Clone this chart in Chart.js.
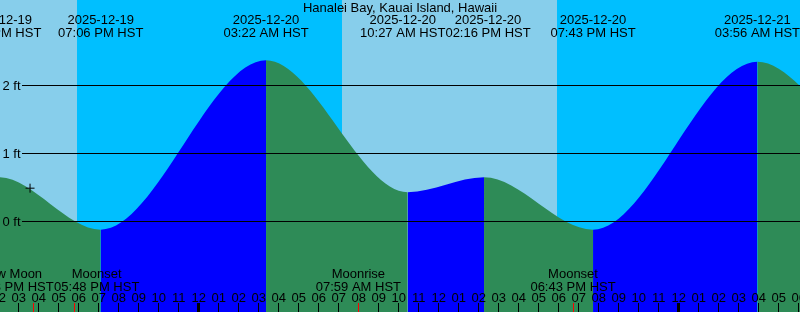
<!DOCTYPE html>
<html>
<head>
<meta charset="utf-8">
<script src="https://cdn.jsdelivr.net/npm/chart.js@4"></script>
<style>
  html, body { margin: 0; padding: 0; background: #fff; }
  canvas { display: block; }
</style>
</head>
<body>
<canvas id="tideChart" width="800" height="312"></canvas>
<script>
const stationName = 'Hanalei Bay, Kauai Island, Hawaii';

// tide highs/lows, local HST. first and last ones are just outside the picture
const tideTimes = ['2025-12-19 08:00', '2025-12-19 14:00', '2025-12-19 19:06', '2025-12-20 03:22',
  '2025-12-20 10:27', '2025-12-20 14:16', '2025-12-20 19:43', '2025-12-21 03:56',
  '2025-12-21 10:30', '2025-12-21 16:30'];
const tideHeights = [0.30, 0.65, -0.12, 2.37, 0.43, 0.65, -0.12, 2.35, 0.90, 1.00];

// night = sunset .. sunrise
const nightStarts = ['2025-12-19 17:55', '2025-12-20 17:55'];
const nightEnds = ['2025-12-20 07:10', '2025-12-21 07:10'];

const moonEvents = ['New Moon', 'Moonset', 'Moonrise', 'Moonset'];
const moonTimes = ['2025-12-19 15:43', '2025-12-19 17:48', '2025-12-20 07:59', '2025-12-20 18:43'];

const heightTicks = [0, 1, 2];
const heightLabels = ['0 ft', '1 ft', '2 ft'];

// the "+" mark
const markTime = '2025-12-19 15:34';
const markHeight = 0.49;

const DAY = '#87CEEB', NIGHT = '#00BFFF', FLOOD = '#0000FF', EBB = '#2E8B57';
const FONT = '13px "Liberation Sans", Arial, sans-serif';

const base = Date.parse('2025-12-20T00:00:00Z');
function toHours(s) {
  const [d, t] = s.split(' ');
  return (Date.parse(d + 'T' + t + ':00Z') - base) / 3.6e6;
}
function pad(n) { return (n < 10 ? '0' : '') + n; }
function clock(s) {
  const t = s.split(' ')[1];
  const hh = Number(t.slice(0, 2));
  return pad(hh % 12 || 12) + ':' + t.slice(3) + (hh < 12 ? ' AM' : ' PM') + ' HST';
}

const xMin = -9.935, xMax = xMin + 40;
const yMin = -90.5 / 68, yMax = 221.5 / 68;

// labels that xtide pushed sideways so they don't overlap
const tideLabelShift = { 4: -5, 5: 4 };
const moonLabelShift = [-22, 22, 0, 0];

const painter = {
  id: 'painter',
  beforeDatasetsDraw(chart) {
    const { ctx, chartArea: a, scales: { x } } = chart;
    ctx.save();
    ctx.fillStyle = DAY;
    ctx.fillRect(a.left, a.top, a.right - a.left, a.bottom - a.top);
    ctx.fillStyle = NIGHT;
    nightStarts.forEach((s, i) => {
      const x0 = Math.round(x.getPixelForValue(toHours(s)));
      const x1 = Math.round(x.getPixelForValue(toHours(nightEnds[i])));
      ctx.fillRect(x0, a.top, x1 - x0, a.bottom - a.top);
    });
    ctx.restore();
  },
  afterDatasetsDraw(chart) {
    const { ctx, chartArea: a, scales: { x, y } } = chart;
    ctx.save();
    ctx.fillStyle = '#000';
    ctx.strokeStyle = '#000';
    ctx.lineWidth = 1;
    ctx.font = FONT;

    // height lines
    heightTicks.forEach((v, i) => {
      const py = Math.floor(y.getPixelForValue(v)) + 0.5;
      ctx.beginPath();
      ctx.moveTo(22, py);
      ctx.lineTo(a.right, py);
      ctx.stroke();
      ctx.textAlign = 'left';
      ctx.fillText(heightLabels[i], 2.5, py + 4.5);
    });

    ctx.textAlign = 'center';
    ctx.fillText(stationName, 400, 12);

    // high / low labels
    for (let i = 1; i < tideTimes.length - 2; i++) {
      const px = x.getPixelForValue(toHours(tideTimes[i])) + (tideLabelShift[i] || 0);
      ctx.fillText(tideTimes[i].split(' ')[0], px, 24);
      ctx.fillText(clock(tideTimes[i]), px, 37);
    }

    // hour ticks (one either side so the cut-off labels show)
    for (let h = Math.floor(xMin); h <= Math.ceil(xMax); h++) {
      const px = x.getPixelForValue(h);
      const hh = ((h % 24) + 24) % 24;
      if (hh === 0) ctx.fillRect(Math.floor(px) - 1, 303, 3, 9);
      else ctx.fillRect(Math.floor(px), 303, 1, 9);
      ctx.fillText(pad(hh % 12 || 12), px, 302);
    }

    // moon events
    moonEvents.forEach((name, i) => {
      const px = x.getPixelForValue(toHours(moonTimes[i]));
      ctx.fillStyle = '#FF0000';
      ctx.fillRect(Math.floor(px), 303, 1, 9);
      ctx.fillStyle = '#000';
      const lx = px + moonLabelShift[i];
      ctx.fillText(name, lx, 278);
      ctx.fillText(clock(moonTimes[i]), lx, 291);
    });
    ctx.restore();
  }
};

const tidePoints = tideTimes.map((t, i) => ({ x: toHours(t), y: tideHeights[i] }));

new Chart(document.getElementById('tideChart'), {
  type: 'line',
  data: {
    datasets: [{
      type: 'scatter',
      data: [{ x: toHours(markTime), y: markHeight }],
      pointStyle: 'cross',
      pointRadius: 4.5,
      borderColor: '#000',
      borderWidth: 1,
      order: 0
    }, {
      data: tidePoints,
      fill: 'start',
      cubicInterpolationMode: 'monotone',
      borderWidth: 0,
      borderColor: 'rgba(0,0,0,0)',
      pointRadius: 0,
      backgroundColor: EBB,
      segment: {
        backgroundColor: c => c.p1.parsed.y > c.p0.parsed.y ? FLOOD : EBB
      },
      order: 1
    }]
  },
  options: {
    responsive: false,
    devicePixelRatio: 1,
    animation: false,
    layout: { padding: 0, autoPadding: false },
    scales: {
      x: { type: 'linear', min: xMin, max: xMax, display: false },
      y: { min: yMin, max: yMax, display: false }
    },
    plugins: { legend: { display: false }, tooltip: { enabled: false } }
  },
  plugins: [painter]
});
</script>
</body>
</html>
